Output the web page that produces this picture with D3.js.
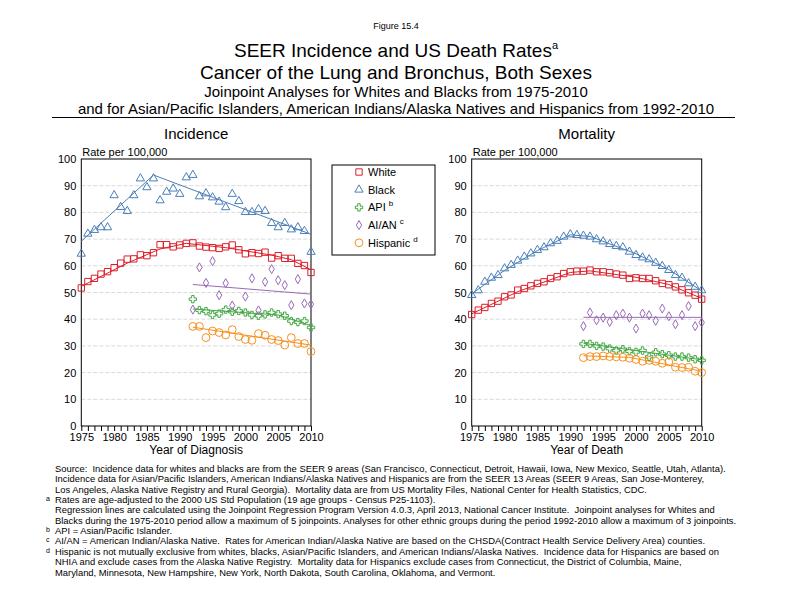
<!DOCTYPE html>
<html>
<head>
<meta charset="utf-8">
<script src="https://cdn.jsdelivr.net/npm/d3@7"></script>
<style>
  body { margin: 0; background: #fff; }
  text { font-family: Arial, "Liberation Sans", sans-serif; fill: #000; }
  .fn { white-space: pre; }
</style>
</head>
<body>
<script>
// years
const yearsAll = d3.range(1975, 2011);
const years92 = d3.range(1992, 2011);
const yTicks = d3.range(0, 101, 10);

// incidence, rate per 100,000
const incWhite = [51.7, 54.1, 55.3, 56.9, 57.8, 59.3, 61.0, 62.5, 62.6, 64.1, 63.8, 64.9,
  67.9, 67.9, 67.1, 67.8, 68.4, 68.6, 67.4, 67.0, 66.8, 66.5, 67.1, 67.8, 66.0, 64.5,
  64.9, 64.6, 65.1, 62.9, 63.8, 62.8, 62.8, 60.9, 60.1, 57.5];
const incBlack = [64.5, 72.0, 73.4, 74.4, 74.4, 86.4, 82.0, 80.5, 86.4, 92.7, 89.4, 92.7,
  84.5, 87.7, 88.9, 86.9, 93.1, 94.0, 86.0, 87.1, 85.6, 84.0, 81.9, 86.9, 84.2, 80.1,
  80.1, 81.2, 80.5, 76.0, 74.4, 76.0, 73.6, 74.4, 73.0, 65.2];
const incApi = [47.5, 43.4, 43.0, 41.6, 42.1, 43.6, 42.8, 43.1, 42.5, 41.6, 41.3, 41.8,
  42.5, 41.9, 41.3, 39.3, 38.9, 39.3, 36.9];
const incAian = [43.6, 59.4, 53.6, 61.75, 49.0, 53.5, 45.1, null, 48.5, 55.3, 43.3, 54.0,
  58.75, 54.6, 52.75, 45.25, 55.0, 45.9, 45.6];
const incHisp = [37.3, 37.3, 33.1, 35.6, 35.0, 34.1, 36.1, 33.5, 32.4, 32.1, 34.6, 34.0,
  32.4, 32.0, 30.3, 33.1, 30.9, 30.9, 27.9];

// incidence joinpoint fits [year, rate]
const incWhiteFit = [[1975, 52.3], [1982, 61.0], [1987, 66.3], [1991, 68.4], [1997, 66.8], [2004, 64.0], [2007, 62.3], [2010, 58.5]];
const incBlackFit = [[1975, 69.2], [1986, 94.0], [2010, 71.8]];
const incApiFit = [[1992, 43.8], [2005, 41.6], [2010, 37.6]];
const incAianFit = [[1992, 53.0], [2010, 49.4]];
const incHispFit = [[1992, 37.0], [2010, 30.3]];

// mortality, rate per 100,000
const mortWhite = [41.75, 43.4, 44.4, 45.9, 46.75, 48.4, 49.1, 50.9, 51.5, 52.5, 53.4, 54.0,
  55.25, 55.9, 57.1, 57.75, 58.0, 58.0, 58.4, 57.75, 57.75, 57.4, 56.9, 56.5, 55.25, 55.5,
  55.25, 55.25, 54.4, 53.4, 52.9, 52.1, 51.0, 49.9, 49.0, 47.5];
const mortBlack = [49.0, 50.8, 54.0, 55.5, 56.5, 59.0, 60.3, 61.9, 63.4, 64.6, 65.9, 66.9,
  68.4, 69.3, 70.9, 71.75, 71.5, 71.25, 70.9, 69.9, 69.1, 68.1, 67.4, 66.9, 65.25, 64.0,
  63.1, 62.4, 61.1, 59.9, 58.4, 56.5, 55.5, 53.4, 52.1, 50.8];
const mortApi = [30.75, 30.75, 30.0, 29.75, 29.0, 28.25, 28.75, 28.0, 27.75, 28.25, 25.9,
  27.6, 26.9, 26.5, 26.0, 26.0, 25.6, 25.0, 24.6];
const mortAian = [37.4, 42.5, 39.6, 40.6, 39.0, 41.5, 42.1, 40.6, 36.5, 42.1, 41.5, 39.4,
  44.0, 41.1, 38.1, 41.5, 44.9, 37.4, 38.75];
const mortHisp = [25.6, 26.0, 26.0, 26.25, 26.0, 25.9, 25.75, 25.4, 24.9, 24.25, 24.6, 24.25,
  23.5, 24.0, 22.0, 21.9, 22.0, 20.5, 20.0];

const mortWhiteFit = [[1975, 42.0], [1982, 50.3], [1990, 57.5], [1993, 58.1], [2000, 55.7], [2005, 53.0], [2010, 47.8]];
const mortBlackFit = [[1975, 49.5], [1980, 58.3], [1985, 65.7], [1990, 71.6], [1993, 71.0], [2000, 64.5], [2005, 58.6], [2010, 50.6]];
const mortApiFit = [[1992, 31.0], [2010, 24.8]];
const mortAianFit = [[1992, 40.7], [2010, 40.7]];
const mortHispFit = [[1992, 26.3], [1999, 25.7], [2010, 20.5]];

const seriesNames = ['White', 'Black', 'API', 'AI/AN', 'Hispanic'];
const seriesSup = ['', '', 'b', 'c', 'd'];
const colors = ['#dc1e2a', '#4a7fb8', '#45a845', '#9a6ab8', '#f7901e'];
const symbols = [d3.symbolSquare, d3.symbolTriangle, d3.symbolCross, d3.symbolDiamond, d3.symbolCircle];
const symSizes = [40, 30, 30, 24, 48];

const footnotes = [
  ['', 'Source:  Incidence data for whites and blacks are from the SEER 9 areas (San Francisco, Connecticut, Detroit, Hawaii, Iowa, New Mexico, Seattle, Utah, Atlanta).'],
  ['', 'Incidence data for Asian/Pacific Islanders, American Indians/Alaska Natives and Hispanics are from the SEER 13 Areas (SEER 9 Areas, San Jose-Monterey,'],
  ['', 'Los Angeles, Alaska Native Registry and Rural Georgia).  Mortality data are from US Mortality Files, National Center for Health Statistics, CDC.'],
  ['a', 'Rates are age-adjusted to the 2000 US Std Population (19 age groups - Census P25-1103).'],
  ['', 'Regression lines are calculated using the Joinpoint Regression Program Version 4.0.3, April 2013, National Cancer Institute.  Joinpoint analyses for Whites and'],
  ['', 'Blacks during the 1975-2010 period allow a maximum of 5 joinpoints. Analyses for other ethnic groups during the period 1992-2010 allow a maximum of 3 joinpoints.'],
  ['b', 'API = Asian/Pacific Islander.'],
  ['c', 'AI/AN = American Indian/Alaska Native.  Rates for American Indian/Alaska Native are based on the CHSDA(Contract Health Service Delivery Area) counties.'],
  ['d', 'Hispanic is not mutually exclusive from whites, blacks, Asian/Pacific Islanders, and American Indians/Alaska Natives.  Incidence data for Hispanics are based on'],
  ['', 'NHIA and exclude cases from the Alaska Native Registry.  Mortality data for Hispanics exclude cases from Connecticut, the District of Columbia, Maine,'],
  ['', 'Maryland, Minnesota, New Hampshire, New York, North Dakota, South Carolina, Oklahoma, and Vermont.']
];

const W = 792, H = 612;
const svg = d3.select('body').append('svg')
  .attr('width', W)
  .attr('height', H);

// header
svg.append('text').attr('x', 396).attr('y', 29).attr('text-anchor', 'middle')
  .attr('font-size', 9).text('Figure 15.4');
const t1 = svg.append('text').attr('x', 396).attr('y', 57).attr('text-anchor', 'middle')
  .attr('font-size', 19).text('SEER Incidence and US Death Rates');
t1.append('tspan').attr('font-size', 11).attr('dy', -8).text('a');
svg.append('text').attr('x', 396).attr('y', 79).attr('text-anchor', 'middle')
  .attr('font-size', 19).text('Cancer of the Lung and Bronchus, Both Sexes');
svg.append('text').attr('x', 396).attr('y', 97).attr('text-anchor', 'middle')
  .attr('font-size', 15).text('Joinpoint Analyses for Whites and Blacks from 1975-2010');
svg.append('text').attr('x', 396).attr('y', 114).attr('text-anchor', 'middle')
  .attr('font-size', 15).text('and for Asian/Pacific Islanders, American Indians/Alaska Natives and Hispanics from 1992-2010');
svg.append('line').attr('x1', 52).attr('x2', 735).attr('y1', 117.5).attr('y2', 117.5)
  .attr('stroke', '#000').attr('stroke-width', 1.2);

function panel(x0, x1, title, xTitle, data, fits) {
  const x = d3.scaleLinear().domain([1975, 2010]).range([x0, x1]);
  const y = d3.scaleLinear().domain([0, 100]).range([426, 159]);
  const g = svg.append('g');

  g.append('text').attr('x', (x0 + x1) / 2).attr('y', 139).attr('text-anchor', 'middle')
    .attr('font-size', 15).text(title);
  g.append('text').attr('x', x0 + 1).attr('y', 156).attr('font-size', 11).text('Rate per 100,000');

  // grid
  g.append('g').selectAll('line')
    .data(yTicks.slice(1, -1))
    .enter()
    .append('line')
    .attr('x1', x0).attr('x2', x1)
    .attr('y1', d => y(d)).attr('y2', d => y(d))
    .attr('stroke', '#d9d9d9').attr('stroke-dasharray', '4,2');

  const ya = g.append('g').attr('transform', `translate(${x0},0)`)
    .call(d3.axisLeft(y).tickValues(yTicks).tickSize(0).tickPadding(5));
  ya.select('.domain').remove();
  ya.selectAll('text').attr('font-size', 11).attr('font-family', 'Arial, "Liberation Sans", sans-serif');

  const xa = g.append('g').attr('transform', 'translate(0,426)')
    .call(d3.axisBottom(x).tickValues(yearsAll).tickSize(5).tickPadding(2)
      .tickFormat(d => d % 5 === 0 ? d : ''));
  xa.select('.domain').remove();
  xa.selectAll('line').attr('stroke', '#000');
  xa.selectAll('text').attr('font-size', 11).attr('font-family', 'Arial, "Liberation Sans", sans-serif');

  g.append('rect').attr('x', x0).attr('y', y(100)).attr('width', x1 - x0).attr('height', y(0) - y(100))
    .attr('fill', 'none').attr('stroke', '#000').attr('stroke-width', 1);

  g.append('text').attr('x', (x0 + x1) / 2).attr('y', 454).attr('text-anchor', 'middle')
    .attr('font-size', 12).text(xTitle);

  const line = d3.line().x(d => x(d[0])).y(d => y(d[1]));
  fits.forEach((f, i) => {
    g.append('path').attr('d', line(f)).attr('fill', 'none')
      .attr('stroke', colors[i]).attr('stroke-width', 1);
  });

  data.forEach((vals, i) => {
    const yrs = i < 2 ? yearsAll : years92;
    const pts = vals.map((v, k) => [yrs[k], v]).filter(d => d[1] != null);
    g.append('g').selectAll('path')
      .data(pts)
      .enter()
      .append('path')
      .attr('d', d3.symbol().type(symbols[i]).size(symSizes[i]))
      .attr('transform', d => `translate(${x(d[0])},${y(d[1])})`)
      .attr('fill', 'none')
      .attr('stroke', colors[i])
      .attr('stroke-width', 1);
  });
}

panel(81.3, 311, 'Incidence', 'Year of Diagnosis',
  [incWhite, incBlack, incApi, incAian, incHisp],
  [incWhiteFit, incBlackFit, incApiFit, incAianFit, incHispFit]);
panel(471.7, 701.7, 'Mortality', 'Year of Death',
  [mortWhite, mortBlack, mortApi, mortAian, mortHisp],
  [mortWhiteFit, mortBlackFit, mortApiFit, mortAianFit, mortHispFit]);

// legend
const lg = svg.append('g');
lg.append('rect').attr('x', 332).attr('y', 165).attr('width', 103).attr('height', 90)
  .attr('fill', '#fff').attr('stroke', '#000').attr('stroke-width', 1);
seriesNames.forEach((name, i) => {
  const cy = 172 + i * 17.7;
  lg.append('path')
    .attr('d', d3.symbol().type(symbols[i]).size(symSizes[i]))
    .attr('transform', `translate(359,${cy})`)
    .attr('fill', 'none').attr('stroke', colors[i]).attr('stroke-width', 1);
  const t = lg.append('text').attr('x', 368).attr('y', cy + 4).attr('font-size', 11).text(name);
  if (seriesSup[i]) {
    t.append('tspan').attr('font-size', 8).attr('dx', 3).attr('dy', -5).text(seriesSup[i]);
  }
});

// footnotes
const fn = svg.append('g');
footnotes.forEach((d, i) => {
  const yy = 472 + i * 10.35;
  if (d[0]) {
    fn.append('text').attr('x', 46).attr('y', yy - 2).attr('font-size', 7).text(d[0]);
  }
  fn.append('text').attr('class', 'fn').attr('x', 55).attr('y', yy)
    .attr('font-size', 9.4).text(d[1]);
});
</script>
</body>
</html>
